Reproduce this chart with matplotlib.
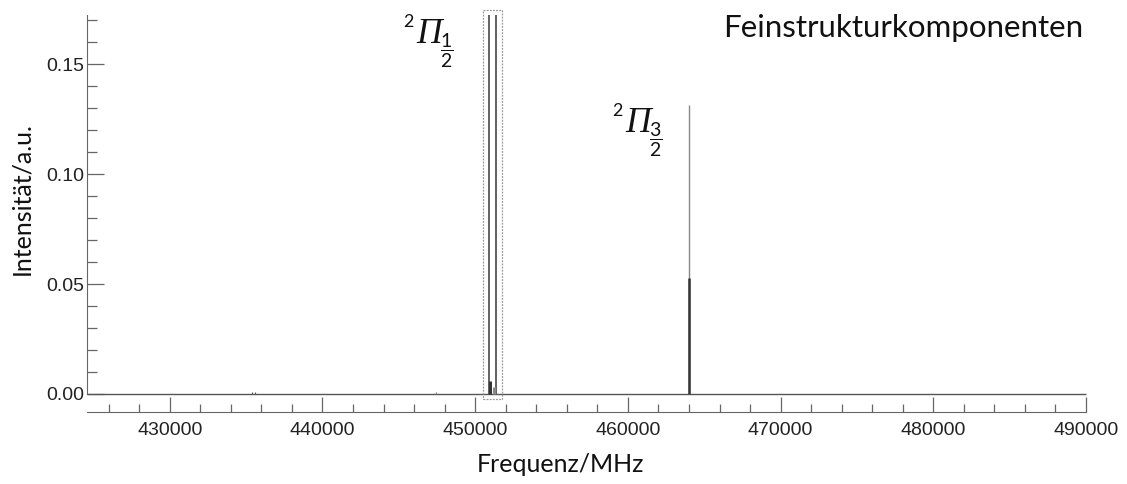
import matplotlib
matplotlib.use("Agg")
import matplotlib.pyplot as plt
from matplotlib.ticker import MultipleLocator, FormatStrFormatter, FixedLocator
from matplotlib.patches import Rectangle

# ---- data ----
x_range = [424545, 490000]
peak_freq = [435360, 435580, 447410, 450918, 451337, 450964, 451226, 464013, 464013]
peak_int = [0.0008, 0.0008, 0.0008, 0.1723, 0.1723, 0.0060, 0.0030, 0.1314, 0.0527]
peak_color = ['#555555', '#555555', '#777777', '#555555', '#555555', '#333333', '#888888', '#888888', '#333333']
peak_width = [0.8, 0.8, 0.8, 1.3, 1.3, 2.2, 2.2, 1.0, 1.8]
box_x = [450525, 451770]
xticks_major = [430000, 440000, 450000, 460000, 470000, 480000, 490000]
yticks_major = [0.00, 0.05, 0.10, 0.15]

plt.rcParams['mathtext.fontset'] = 'custom'
plt.rcParams['mathtext.sf'] = 'Lato'
plt.rcParams['mathtext.rm'] = 'Lato'

W, H = 1127, 484
fig = plt.figure(figsize=(W / 100, H / 100), dpi=100)
ax = fig.add_axes([86.5 / W, 1 - 394 / H, 999.5 / W, (394 - 15) / H])

ax.set_xlim(*x_range)
ax.set_ylim(0, 0.1723)

# baseline
ax.hlines(0, x_range[0], x_range[1], color='#555555', lw=1.0, clip_on=False, zorder=3)
ax.vlines(peak_freq, 0, peak_int, colors=peak_color, linewidths=peak_width, clip_on=False, zorder=3)

# dotted box around 2Pi1/2 component
rect = Rectangle((box_x[0], -0.0023), box_x[1] - box_x[0], 0.1745 + 0.0023,
                 fill=False, ec='#999999', lw=0.9, ls=(0, (1.5, 1.0)), clip_on=False, zorder=4)
ax.add_patch(rect)

for s in ['top', 'right']:
    ax.spines[s].set_visible(False)
ax.spines['left'].set_color('#666666')
ax.spines['bottom'].set_color('#666666')
ax.spines['bottom'].set_position(('outward', 18 * 0.72))

ax.xaxis.set_major_locator(FixedLocator(xticks_major))
ax.xaxis.set_minor_locator(MultipleLocator(2000))
ax.yaxis.set_major_locator(FixedLocator(yticks_major))
ax.yaxis.set_minor_locator(MultipleLocator(0.01))
ax.yaxis.set_major_formatter(FormatStrFormatter('%.2f'))

tickfont = 'Liberation Sans'
ax.tick_params(axis='x', which='major', direction='in', length=10.8, width=0.9, color='#666666', pad=7,
               labelsize=14, labelcolor='#222222')
ax.tick_params(axis='x', which='minor', direction='in', length=5.8, width=0.9, color='#666666')
ax.tick_params(axis='y', which='major', direction='in', length=12, width=0.9, color='#666666', pad=1.5,
               labelsize=14, labelcolor='#222222')
ax.tick_params(axis='y', which='minor', direction='in', length=7, width=0.9, color='#666666')
for lab in ax.get_xticklabels() + ax.get_yticklabels():
    lab.set_fontfamily(tickfont)

labfont = 'Lato'
fig.text(560 / W, 1 - 465 / H, 'Frequenz/MHz', fontsize=18, fontfamily=labfont, color='#111111',
         ha='center', va='center')
fig.text(22 / W, 1 - 199 / H, 'Intensität/a.u.', fontsize=18, fontfamily=labfont, color='#111111',
         ha='center', va='center', rotation=90)
fig.text(1083 / W, 1 - 28 / H, 'Feinstrukturkomponenten', fontsize=22.5, fontfamily=labfont, color='#111111',
         ha='right', va='center')


def term_label(x0, ybase, num):
    # superscript multiplicity
    fig.text(x0 / W, 1 - (ybase - 16) / H, '2', fontsize=13, fontfamily='Lato', color='#111111',
             ha='left', va='baseline')
    # italic capital Pi
    fig.text((x0 + 13) / W, 1 - ybase / H, 'Π', fontsize=25.5, fontfamily='Liberation Serif',
             style='italic', color='#111111', ha='left', va='baseline')
    # fraction subscript
    fig.text((x0 + 44) / W, 1 - (ybase + 8) / H, r'$\dfrac{\mathsf{%s}}{\mathsf{2}}$' % num,
             fontsize=14, color='#111111', ha='center', va='center')


term_label(403, 43, '1')
term_label(612, 132, '3')

fig.savefig('out.png', dpi=100)
